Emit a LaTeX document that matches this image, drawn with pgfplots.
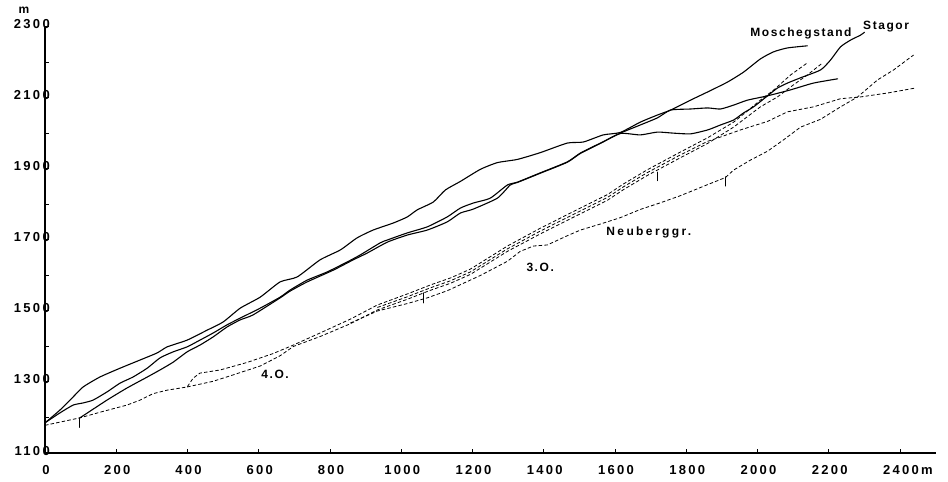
\documentclass[border=0pt]{standalone}
\usepackage{fontspec}
\setmainfont{Liberation Sans}
\newfontfamily\numf{Liberation Sans}[LetterSpace=18]
\newfontfamily\labf{Liberation Sans}[LetterSpace=13]
\newfontfamily\wlabf{Liberation Sans}[LetterSpace=20]
\usepackage{pgfplots}
\pgfplotsset{compat=1.18}

\begin{document}
\begin{tikzpicture}
\useasboundingbox (-45pt,-29pt) rectangle (903pt,453pt);
\begin{axis}[
  x=0.35625pt, y=0.355pt,
  xmin=0, xmax=2500, ymin=1100, ymax=2300,
  axis x line=bottom, axis y line=left,
  axis line style={-, line width=1.4pt},
  clip=false,
  tick align=inside,
  xtick={0,200,...,2400},
  xticklabels={0,200,400,600,800,1000,1200,1400,1600,1800,2000,2200,{2400\rlap{\,m}}},
  ytick={1100,1300,...,2300},
  yticklabels={1100,1300,1500,1700,1900,2100,2300},
  minor ytick={1200,1400,...,2200},
  major tick length=4pt, minor tick length=4pt,
  tick style={line width=1pt, black},
  ticklabel style={font=\numf\bfseries\fontsize{13}{15}\selectfont},
  xticklabel style={anchor=north, inner sep=0pt, yshift=-12pt, xshift=1pt},
  yticklabel style={anchor=base east, inner sep=0pt, yshift=-2pt, xshift=5pt},
  every axis plot/.append style={black, line join=round, line cap=round},
  sol/.style={line width=1.1pt, solid, smooth, tension=0.35},
  das/.style={line width=0.8pt, line cap=butt, dash pattern=on 3.5pt off 2.2pt},
]
% Moschegstand (oberste Linie)
\addplot[sol] coordinates {(0,1185) (42,1221) (79,1258) (107,1286) (154,1314) (211,1339) (267,1362) (315,1382) (343,1399) (399,1418) (455,1446) (500,1469) (548,1508) (604,1539) (660,1582) (708,1596) (772,1644) (829,1672) (876,1706) (921,1728) (978,1748) (1017,1765) (1045,1785) (1090,1807) (1124,1841) (1166,1865) (1222,1899) (1270,1918) (1326,1927) (1390,1946) (1466,1973) (1511,1976) (1567,1996) (1615,2003) (1671,2032) (1719,2052) (1756,2066) (1812,2094) (1860,2117) (1916,2145) (1961,2173) (2008,2210) (2045,2230) (2084,2241) (2140,2247)};
% mittlere Linie
\addplot[sol] coordinates {(0,1185) (42,1213) (79,1235) (107,1241) (135,1249) (174,1272) (211,1297) (247,1314) (287,1339) (323,1368) (360,1385) (399,1399) (435,1418) (472,1438) (511,1461) (548,1480) (604,1508) (660,1539) (688,1559) (736,1587) (792,1610) (848,1638) (885,1658) (941,1692) (961,1700) (1017,1720) (1073,1737) (1129,1765) (1166,1790) (1202,1804) (1250,1818) (1298,1855) (1326,1863) (1390,1889) (1466,1920) (1503,1945) (1559,1973) (1615,2001) (1671,2024) (1719,2044) (1756,2066) (1812,2069) (1860,2072) (1896,2069) (1933,2080) (1972,2094) (2028,2106) (2093,2123) (2157,2142) (2225,2154)};
% Stagor
\addplot[sol] coordinates {(98,1199) (174,1249) (230,1283) (287,1314) (323,1334) (360,1356) (399,1385) (435,1404) (472,1427) (511,1455) (548,1475) (584,1489) (660,1537) (688,1556) (736,1582) (809,1615) (865,1644) (904,1663) (961,1694) (1017,1714) (1073,1728) (1129,1751) (1166,1776) (1202,1787) (1270,1818) (1306,1855) (1326,1862) (1390,1888) (1466,1919) (1503,1944) (1559,1972) (1615,2000) (1671,1996) (1719,2004) (1764,2001) (1812,1999) (1860,2010) (1896,2024) (1933,2038) (1961,2058) (1989,2075) (2028,2106) (2056,2128) (2084,2142) (2121,2157) (2177,2179) (2205,2207) (2233,2244) (2261,2263) (2289,2277) (2300,2285)};
% gestrichelte Linien
\addplot[das] coordinates {(0,1178) (98,1199) (155,1215) (230,1235) (267,1249) (303,1267) (343,1277) (399,1286) (416,1311) (435,1325) (492,1334) (567,1355) (640,1380) (697,1404) (772,1438) (857,1477) (933,1517) (1017,1548) (1081,1573) (1138,1593) (1194,1618) (1250,1653) (1298,1683) (1390,1733) (1483,1780) (1579,1828) (1624,1858) (1691,1898) (1784,1948) (1860,1988) (1933,2032) (1970,2062) (2008,2094) (2045,2122) (2093,2165) (2140,2199)};
\addplot[das] coordinates {(399,1286) (472,1302) (528,1320) (604,1345) (660,1374) (697,1400) (772,1428) (857,1464) (933,1503) (1017,1533) (1081,1558) (1138,1578) (1194,1603) (1250,1638) (1298,1668) (1390,1717) (1483,1764) (1579,1812) (1624,1842) (1691,1882) (1784,1932) (1860,1972) (1933,2018) (2008,2075) (2056,2103) (2101,2137) (2140,2165) (2183,2199)};
\addplot[das] coordinates {(857,1466) (933,1500) (1017,1521) (1073,1537) (1129,1557) (1222,1600) (1298,1640) (1334,1668) (1371,1683) (1410,1686) (1466,1712) (1503,1728) (1559,1745) (1615,1763) (1671,1786) (1728,1805) (1784,1825) (1860,1856) (1910,1876) (1933,1897) (1980,1925) (2028,1950) (2073,1982) (2121,2018) (2177,2040) (2233,2075) (2281,2103) (2337,2151) (2382,2179) (2438,2221)};
\addplot[das] coordinates {(933,1510) (1017,1540) (1081,1565) (1138,1585) (1194,1610) (1250,1645) (1298,1675) (1390,1725) (1483,1772) (1579,1820) (1624,1850) (1691,1890) (1784,1940) (1860,1978) (1896,1990) (1952,2010) (2028,2034) (2084,2061) (2157,2075) (2233,2098) (2289,2103) (2365,2114) (2443,2128)};
% kleine Markierungsstriche
\addplot[line width=0.9pt] coordinates {(98,1199) (98,1172)};
\addplot[line width=0.9pt] coordinates {(1062,1551) (1062,1523)};
\addplot[line width=0.9pt] coordinates {(1719,1891) (1719,1867)};
\addplot[line width=0.9pt] coordinates {(1910,1878) (1910,1852)};
% Beschriftungen
\node[font=\labf\bfseries\fontsize{12}{14}\selectfont, anchor=base] at (axis cs:2122,2272) {Moschegstand};
\node[font=\labf\bfseries\fontsize{12}{14}\selectfont, anchor=base] at (axis cs:2361,2292) {Stagor};
\node[font=\wlabf\bfseries\fontsize{12}{14}\selectfont, anchor=base] at (axis cs:1695,1714) {Neuberggr.};
\node[font=\labf\bfseries\fontsize{12}{14}\selectfont, anchor=base] at (axis cs:1390,1610) {3.O.};
\node[font=\labf\bfseries\fontsize{12}{14}\selectfont, anchor=base] at (axis cs:646,1311) {4.O.};
\node[font=\labf\bfseries\fontsize{12}{14}\selectfont, anchor=base] at (axis cs:-59,2339) {m};
\end{axis}
\end{tikzpicture}
\end{document}
